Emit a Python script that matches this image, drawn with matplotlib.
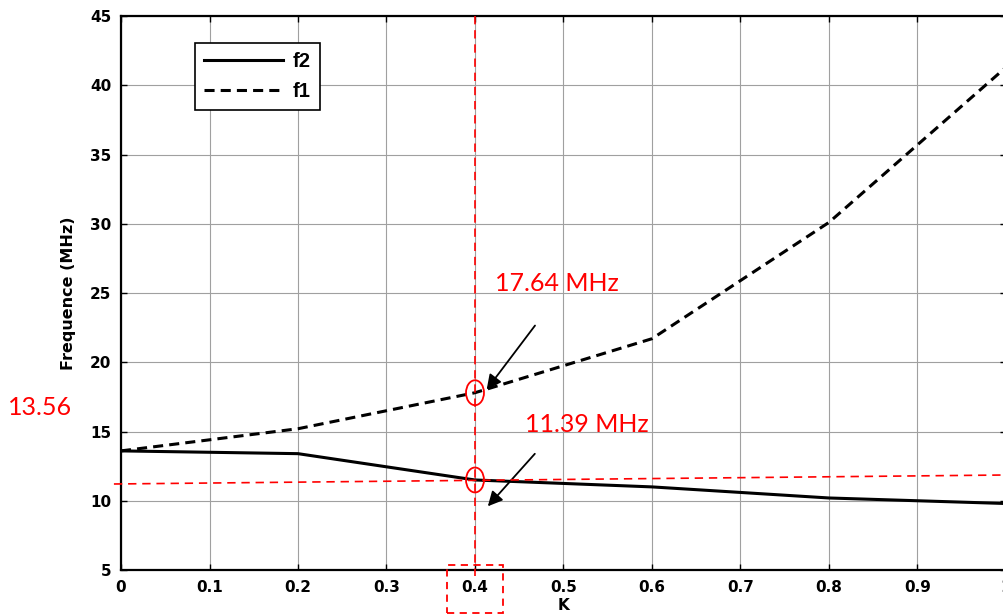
import matplotlib
matplotlib.use("Agg")
import matplotlib.pyplot as plt
from matplotlib.patches import Ellipse, Rectangle

# Data
K = [0.0, 0.2, 0.4, 0.6, 0.8, 1.0]
f2 = [13.6, 13.4, 11.5, 11.0, 10.2, 9.8]
f1 = [13.6, 15.2, 17.8, 21.7, 30.1, 41.3]
xticks = [0, 0.1, 0.2, 0.3, 0.4, 0.5, 0.6, 0.7, 0.8, 0.9, 1]
xticklabels = ["0", "0.1", "0.2", "0.3", "0.4", "0.5", "0.6", "0.7", "0.8", "0.9", "1"]
yticks = [5, 10, 15, 20, 25, 30, 35, 40, 45]
k_mark = 0.4
label_f1 = "17.64 MHz"
label_f2 = "11.39 MHz"
label_ref = "13.56"

plt.rcParams['font.family'] = ['DejaVu Sans']

fig = plt.figure(figsize=(10.04, 6.15), dpi=100)
ax = fig.add_axes([121/1004, 1-570/615, 885/1004, 554/615])

ax.plot(K, f2, color='black', lw=2.2, label='f2', solid_joinstyle='miter')
ax.plot(K, f1, color='black', lw=2.2, ls=(0, (3.3, 2.0)), label='f1')

ax.set_xlim(0, 1)
ax.set_ylim(5, 45)
ax.set_xticks(xticks)
ax.set_xticklabels(xticklabels)
ax.set_yticks(yticks)
ax.grid(True, color='#a0a0a0', lw=0.8)
ax.set_axisbelow(True)
ax.tick_params(direction='in', length=4, width=1, top=True, right=True,
               labelsize=11, pad=7)
for lab in ax.get_xticklabels() + ax.get_yticklabels():
    lab.set_fontweight('bold')
for s in ax.spines.values():
    s.set_linewidth(1.6)

ax.set_xlabel('K', fontsize=11, fontweight='bold', labelpad=2)
ax.set_ylabel('Frequence (MHz)', fontsize=11.5, fontweight='bold', labelpad=10)

leg = ax.legend(loc='upper left', bbox_to_anchor=(0.0836, 0.9513), fancybox=False,
                edgecolor='black', framealpha=1, handlelength=3.9,
                prop={'weight': 'bold', 'size': 14.5, 'family': ['Liberation Sans']},
                borderpad=0.45, labelspacing=0.55, handletextpad=0.5, borderaxespad=0)
leg.get_frame().set_linewidth(1.2)

# Red annotations
red = '#ff0000'
ax.plot([k_mark, k_mark], [45, 4.6], color=red, lw=1.2, ls=(0, (5, 3.5)), clip_on=False, zorder=4)
ax.plot([-0.008, 1.0], [11.21, 11.86], color=red, lw=1.2, ls=(0, (5, 3.5)), clip_on=False, zorder=4)
ax.add_patch(Ellipse((k_mark, f1[2]), 0.0203, 1.8, fill=False, ec=red, lw=1.3, zorder=5))
ax.add_patch(Ellipse((k_mark, f2[2]), 0.0203, 1.8, fill=False, ec=red, lw=1.3, zorder=5))
ax.add_patch(Rectangle((0.3684, 1.9), 0.0632, 3.46, fill=False, ec=red, lw=1.3,
                       ls=(0, (4, 3)), clip_on=False, zorder=5))

ax.annotate('', xy=(0.4113, 17.87), xytext=(0.4697, 22.81),
            arrowprops=dict(arrowstyle='-|>', color='black', lw=1.3, mutation_scale=22))
ax.annotate('', xy=(0.4124, 9.45), xytext=(0.4697, 13.54),
            arrowprops=dict(arrowstyle='-|>', color='black', lw=1.3, mutation_scale=22))

tfont = dict(color=red, fontsize=18, family=['Lato', 'DejaVu Sans'], va='center', ha='left')
ax.text(0.4226, 25.72, label_f1, clip_on=False, **tfont)
ax.text(0.4565, 15.47, label_f2, clip_on=False, **tfont)
ax.text(-0.1277, 16.7, label_ref, clip_on=False, **tfont)

fig.savefig('out.png', dpi=100)
